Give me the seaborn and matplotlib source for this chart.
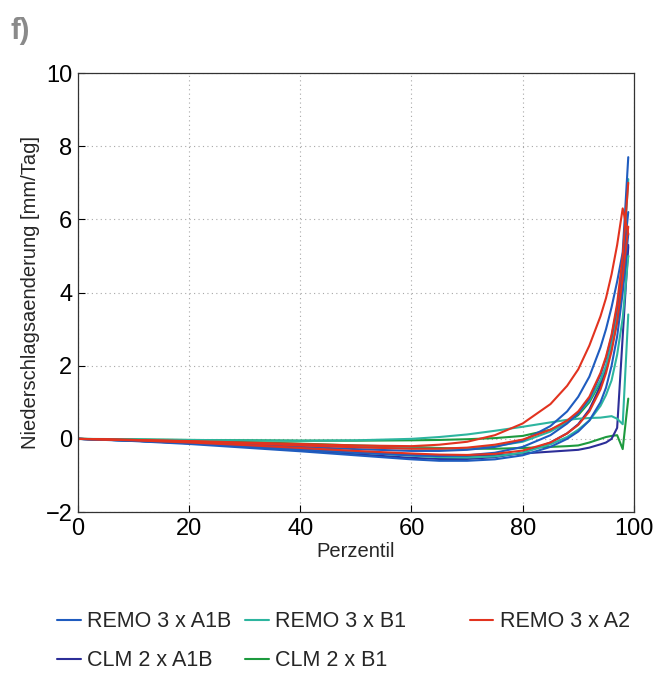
import numpy as np
import pandas as pd
import matplotlib
matplotlib.use("Agg")
import matplotlib.pyplot as plt
import seaborn as sns

# ---- data ----
percentiles = [0, 10, 20, 30, 40, 50, 60, 65, 70, 75, 80, 85, 88, 90, 92, 94, 95, 96, 97, 98, 99]

remo_a1b_1 = [0, -0.04, -0.09, -0.15, -0.22, -0.28, -0.33, -0.33, -0.30, -0.22, -0.05, 0.35, 0.75, 1.15, 1.70, 2.50, 3.00, 3.60, 4.30, 5.10, 7.70]
remo_a1b_2 = [0, -0.05, -0.12, -0.20, -0.29, -0.38, -0.45, -0.47, -0.45, -0.38, -0.22, 0.10, 0.42, 0.70, 1.10, 1.75, 2.20, 2.80, 3.60, 4.70, 6.20]
remo_a1b_3 = [0, -0.06, -0.14, -0.24, -0.34, -0.45, -0.56, -0.60, -0.60, -0.56, -0.45, -0.22, 0.00, 0.20, 0.50, 1.00, 1.40, 2.00, 2.80, 4.00, 5.60]

remo_b1_1 = [0, -0.01, -0.03, -0.04, -0.05, -0.04, 0.00, 0.05, 0.12, 0.22, 0.33, 0.45, 0.52, 0.55, 0.57, 0.58, 0.60, 0.62, 0.55, 0.40, 3.40]
remo_b1_2 = [0, -0.03, -0.07, -0.12, -0.17, -0.22, -0.26, -0.27, -0.26, -0.20, -0.08, 0.20, 0.45, 0.70, 1.05, 1.60, 2.00, 2.60, 3.40, 4.60, 7.10]
remo_b1_3 = [0, -0.05, -0.11, -0.19, -0.28, -0.37, -0.46, -0.50, -0.51, -0.48, -0.38, -0.15, 0.05, 0.25, 0.50, 0.90, 1.20, 1.60, 2.30, 3.30, 5.00]

remo_a2_1 = [0, -0.03, -0.06, -0.10, -0.14, -0.18, -0.20, -0.16, -0.08, 0.10, 0.42, 0.95, 1.45, 1.90, 2.55, 3.35, 3.85, 4.50, 5.30, 6.30, 5.60]
remo_a2_2 = [0, -0.03, -0.07, -0.12, -0.18, -0.23, -0.27, -0.27, -0.24, -0.16, -0.02, 0.25, 0.50, 0.75, 1.15, 1.80, 2.25, 2.85, 3.70, 5.00, 7.00]
remo_a2_3 = [0, -0.04, -0.10, -0.17, -0.25, -0.33, -0.40, -0.43, -0.44, -0.41, -0.32, -0.10, 0.15, 0.38, 0.75, 1.35, 1.80, 2.40, 3.20, 4.40, 5.80]

clm_a1b_1 = [0, -0.05, -0.11, -0.18, -0.26, -0.35, -0.43, -0.46, -0.47, -0.45, -0.40, -0.35, -0.32, -0.30, -0.24, -0.15, -0.10, 0.00, 0.30, 2.80, 5.25]
clm_a1b_2 = [0, -0.05, -0.12, -0.21, -0.31, -0.42, -0.52, -0.55, -0.55, -0.50, -0.38, -0.10, 0.15, 0.40, 0.80, 1.45, 1.90, 2.50, 3.30, 4.30, 5.30]

clm_b1_1 = [0, -0.02, -0.05, -0.09, -0.13, -0.18, -0.22, -0.25, -0.27, -0.27, -0.25, -0.22, -0.20, -0.18, -0.10, 0.00, 0.05, 0.08, 0.10, -0.28, 1.10]
clm_b1_2 = [0, -0.02, -0.03, -0.04, -0.05, -0.05, -0.04, -0.03, -0.01, 0.02, 0.08, 0.25, 0.45, 0.65, 1.00, 1.55, 1.95, 2.50, 3.20, 4.20, 5.00]

labels = ["REMO 3 x A1B", "REMO 3 x B1", "REMO 3 x A2", "CLM 2 x A1B", "CLM 2 x B1"]
colors = ["#1f5cbf", "#2db59f", "#e2331f", "#2c2e98", "#1d9a3e"]

runs = {
    "REMO 3 x A1B": [remo_a1b_1, remo_a1b_2, remo_a1b_3],
    "REMO 3 x B1": [remo_b1_1, remo_b1_2, remo_b1_3],
    "REMO 3 x A2": [remo_a2_1, remo_a2_2, remo_a2_3],
    "CLM 2 x A1B": [clm_a1b_1, clm_a1b_2],
    "CLM 2 x B1": [clm_b1_1, clm_b1_2],
}

rows = []
for model, series_list in runs.items():
    for i, s in enumerate(series_list):
        for p, v in zip(percentiles, s):
            rows.append({"model": model, "run": f"{model}_{i}", "p": p, "v": v})
df = pd.DataFrame(rows)

# ---- style ----
sns.set_style("ticks")
plt.rcParams["font.family"] = ["Liberation Sans", "DejaVu Sans"]

fig = plt.figure(figsize=(6.70, 6.73), dpi=100)
ax = fig.add_axes([0.1164, 0.2392, 0.8296, 0.6523])

palette = dict(zip(labels, colors))
draw_order = ["CLM 2 x B1", "CLM 2 x A1B", "REMO 3 x B1", "REMO 3 x A1B", "REMO 3 x A2"]
for model in draw_order:
    sub = df[df["model"] == model]
    sns.lineplot(data=sub, x="p", y="v", units="run", estimator=None,
                 color=palette[model], lw=1.5, ax=ax, legend=False)

ax.set_xlim(0, 100)
ax.set_ylim(-2, 10)
ax.set_xticks([0, 20, 40, 60, 80, 100])
ax.set_yticks([-2, 0, 2, 4, 6, 8, 10])
ax.set_yticklabels(["\u22122", "0", "2", "4", "6", "8", "10"])
ax.grid(True, linestyle=(0, (1, 3)), color="#a8a8a8", linewidth=0.8)
ax.tick_params(direction="in", length=5, width=0.8, labelsize=17, colors="black", pad=4)
for sp in ax.spines.values():
    sp.set_visible(True)
    sp.set_color("#333333")
    sp.set_linewidth(0.9)

ax.set_xlabel("Perzentil", fontsize=14.5, labelpad=2)
ax.set_ylabel("Niederschlagsaenderung [mm/Tag]", fontsize=14.5, labelpad=4)

fig.text(0.016, 0.974, "f)", fontsize=21, fontweight="bold", color="#8a8a8a", va="top", ha="left")

# legend: three columns placed like the reference
col_groups = [(0.085, [0, 3]), (0.366, [1, 4]), (0.701, [2])]
for x0, idxs in col_groups:
    hs = [plt.Line2D([], [], color=colors[i], lw=1.5) for i in idxs]
    ls = [labels[i] for i in idxs]
    fig.legend(hs, ls, loc="upper left", bbox_to_anchor=(x0, 0.092),
               frameon=False, fontsize=15.5, handlelength=1.1, handletextpad=0.3,
               labelspacing=0.85, borderaxespad=0, borderpad=0)

fig.savefig("out.png", dpi=100)
